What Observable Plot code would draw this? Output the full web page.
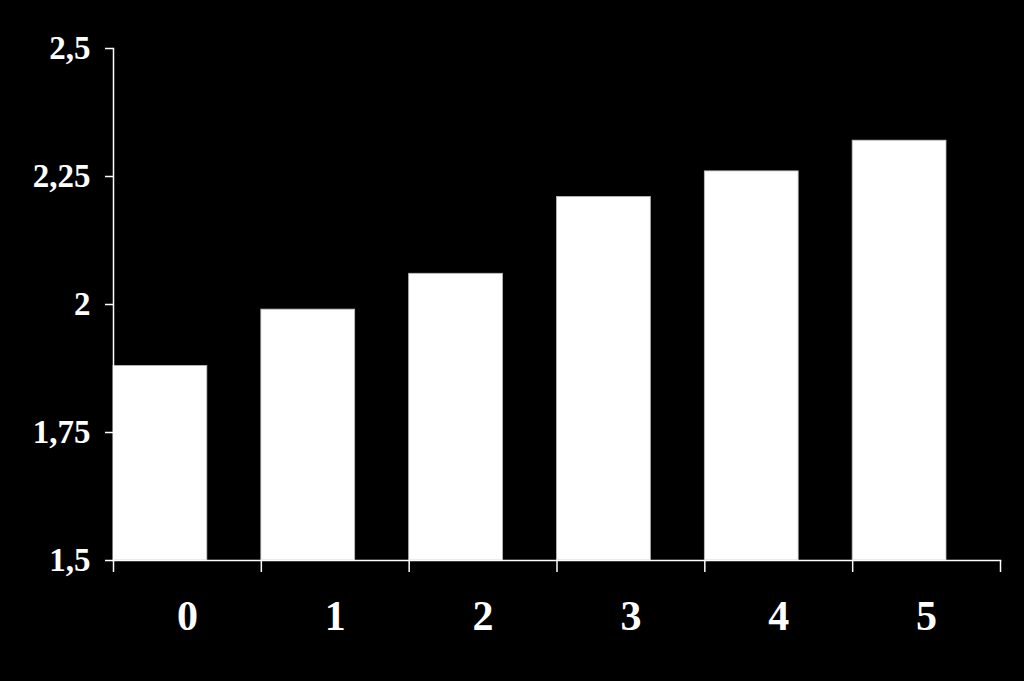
<!DOCTYPE html>
<html>
<head>
<meta charset="utf-8">
<script src="https://cdn.jsdelivr.net/npm/d3@7"></script>
<script src="https://cdn.jsdelivr.net/npm/@observablehq/plot@0.6"></script>
<style>
  html, body { margin: 0; padding: 0; background: #000; }
  #chart { width: 1024px; height: 681px; }
</style>
</head>
<body>
<div id="chart"></div>
<script>
const categories = ["0", "1", "2", "3", "4", "5"];
const values = [1.88, 1.99, 2.06, 2.21, 2.26, 2.32];
const yTicks = [1.5, 1.75, 2, 2.25, 2.5];
const yDomain = [1.5, 2.5];

const data = categories.map((c, i) => ({cat: c, value: values[i]}));

const W = 1024, H = 681;
const mL = 113, mR = 24, mT = 48, mB = 121;
const bw = (W - mL - mR) / categories.length;
const fmt = d => String(d).replace(".", ",");

const chart = Plot.plot({
  width: W,
  height: H,
  marginLeft: mL,
  marginRight: mR,
  marginTop: mT,
  marginBottom: mB,
  style: {background: "#000", color: "#fff", fontFamily: "'Liberation Serif', 'Times New Roman', serif", fontWeight: "bold"},
  x: {domain: categories, padding: 0, round: false, axis: null},
  y: {domain: yDomain, axis: null},
  marks: [
    Plot.rectY(data, {x: "cat", y1: yDomain[0], y2: "value", fill: "#fff", stroke: "#bbb", strokeWidth: 0.8, insetRight: 54}),
    Plot.axisY(yTicks, {tickSize: 8, tickPadding: 15, tickFormat: fmt, fontSize: 33, fontWeight: "bold", stroke: "#fff", strokeWidth: 1.5, label: null}),
    Plot.axisX(categories, {tickSize: 0, tickPadding: 40, fontSize: 42, fontWeight: "bold", label: null}),
    Plot.axisX(categories, {tickSize: 12, text: null, dx: -bw / 2, stroke: "#fff", strokeWidth: 1.5, label: null}),
    Plot.axisX([categories[categories.length - 1]], {tickSize: 12, text: null, dx: bw / 2, stroke: "#fff", strokeWidth: 1.5, label: null}),
    Plot.frame({anchor: "left", stroke: "#fff", strokeWidth: 1.5}),
    Plot.frame({anchor: "bottom", stroke: "#fff", strokeWidth: 1.5})
  ]
});
document.getElementById("chart").appendChild(chart);
</script>
</body>
</html>
